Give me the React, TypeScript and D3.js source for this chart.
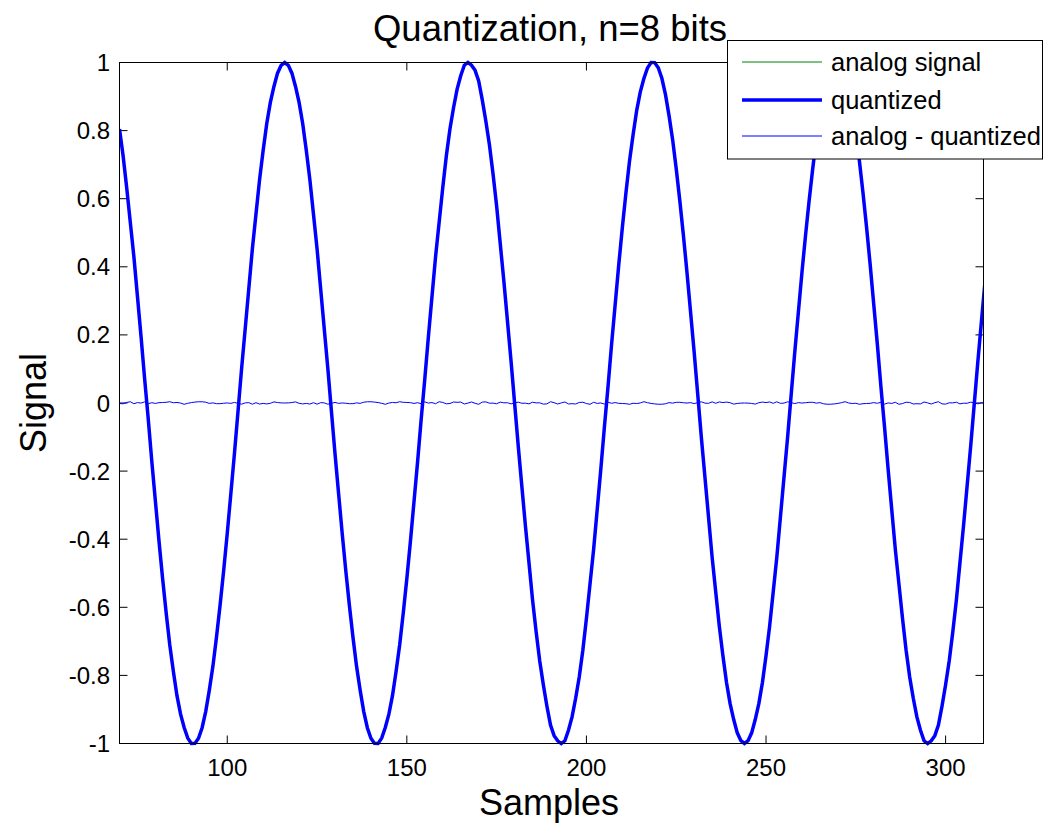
import React from "react";
import * as d3 from "d3";

// sample index of the first value
const firstSample = 70;

// analog signal, one value per sample (n = 70 .. 311)
const analog = [
  0.803, 0.724, 0.634, 0.535, 0.428, 0.314, 0.195, 0.074, -0.049, -0.171,
  -0.29, -0.405, -0.514, -0.615, -0.707, -0.788, -0.858, -0.914, -0.957, -0.985,
  -0.999, -0.997, -0.981, -0.95, -0.904, -0.845, -0.773, -0.69, -0.596, -0.493,
  -0.383, -0.267, -0.147, -0.025, 0.098, 0.219, 0.337, 0.45, 0.556, 0.653,
  0.741, 0.818, 0.882, 0.933, 0.97, 0.992, 1.0, 0.992, 0.97, 0.933,
  0.882, 0.818, 0.741, 0.653, 0.556, 0.45, 0.337, 0.219, 0.098, -0.025,
  -0.147, -0.267, -0.383, -0.493, -0.596, -0.69, -0.773, -0.845, -0.904, -0.95,
  -0.981, -0.997, -0.999, -0.985, -0.957, -0.914, -0.858, -0.788, -0.707, -0.615,
  -0.514, -0.405, -0.29, -0.171, -0.049, 0.074, 0.195, 0.314, 0.428, 0.535,
  0.634, 0.724, 0.803, 0.87, 0.924, 0.964, 0.989, 1.0, 0.995, 0.976,
  0.942, 0.893, 0.831, 0.757, 0.672, 0.576, 0.471, 0.36, 0.243, 0.122,
  0.0, -0.122, -0.243, -0.36, -0.471, -0.576, -0.672, -0.757, -0.831, -0.893,
  -0.942, -0.976, -0.995, -1.0, -0.989, -0.964, -0.924, -0.87, -0.803, -0.724,
  -0.634, -0.535, -0.428, -0.314, -0.195, -0.074, 0.049, 0.171, 0.29, 0.405,
  0.514, 0.615, 0.707, 0.788, 0.858, 0.914, 0.957, 0.985, 0.999, 0.997,
  0.981, 0.95, 0.904, 0.845, 0.773, 0.69, 0.596, 0.493, 0.383, 0.267,
  0.147, 0.025, -0.098, -0.219, -0.337, -0.45, -0.556, -0.653, -0.741, -0.818,
  -0.882, -0.933, -0.97, -0.992, -1.0, -0.992, -0.97, -0.933, -0.882, -0.818,
  -0.741, -0.653, -0.556, -0.45, -0.337, -0.219, -0.098, 0.025, 0.147, 0.267,
  0.383, 0.493, 0.596, 0.69, 0.773, 0.845, 0.904, 0.95, 0.981, 0.997,
  0.999, 0.985, 0.957, 0.914, 0.858, 0.788, 0.707, 0.615, 0.514, 0.405,
  0.29, 0.171, 0.049, -0.074, -0.195, -0.314, -0.428, -0.535, -0.634, -0.724,
  -0.803, -0.87, -0.924, -0.964, -0.989, -1.0, -0.995, -0.976, -0.942, -0.893,
  -0.831, -0.757, -0.672, -0.576, -0.471, -0.36, -0.243, -0.122, 0.0, 0.122,
  0.243, 0.36,
];

// analog - quantized, in units of 1e-4, one value per sample
const errorE4 = [
  -15, -23, 16, 38, -21, 12, -2, 33, -22, 9,
  -12, 10, 15, 20, 38, 7, 16, -1, -38, -9,
  12, 27, 36, 36, 23, -11, 4, -20, -20, -7,
  1, -11, 17, -11, -35, 4, 10, -35, 9, -31,
  -12, -27, -9, 33, 13, 3, 0, 3, 13, 33,
  -9, -27, -12, -31, 9, -35, 10, 4, -35, -11,
  17, -11, 1, -7, -20, -20, 4, -11, 23, 36,
  36, 27, 12, -9, -38, -1, 16, 7, 38, 20,
  15, 10, -12, 9, -22, 33, -2, 12, -21, 38,
  16, -23, -15, 29, 20, 28, -30, -3, 30, -9,
  -38, 26, 33, -6, -3, -23, 26, 5, 8, -26,
  0, 26, -8, -5, -26, 23, 3, 6, -33, -26,
  38, 9, -30, 3, 30, -28, -20, -29, 15, 23,
  -16, -38, 21, -12, 2, -33, 22, -9, 12, -10,
  -15, -20, -38, -7, -16, 1, 38, 9, -12, -27,
  -36, -36, -23, 11, -4, 20, 20, 7, -1, 11,
  -17, 11, 35, -4, -10, 35, -9, 31, 12, 27,
  9, -33, -13, -3, 0, -3, -13, -33, 9, 27,
  12, 31, -9, 35, -10, -4, 35, 11, -17, 11,
  -1, 7, 20, 20, -4, 11, -23, -36, -36, -27,
  -12, 9, 38, 1, -16, -7, -38, -20, -15, -10,
  12, -9, 22, -33, 2, -12, 21, -38, -16, 23,
  15, -29, -20, -28, 30, 3, -30, 9, 38, -26,
  -33, 6, 3, 23, -26, -5, -8, 26, 0, -26,
  8, 5,
];

const xTicks = [100, 150, 200, 250, 300];
const yTicks = [-1, -0.8, -0.6, -0.4, -0.2, 0, 0.2, 0.4, 0.6, 0.8, 1];
const xDomain = [70, 310.55];
const yDomain = [-1, 1];

const titleText = "Quantization, n=8 bits";
const xLabel = "Samples";
const yLabel = "Signal";
const legendLabels = ["analog signal", "quantized", "analog - quantized"];

const W = 1043;
const H = 829;
const L = 119.5;
const R = 983.5;
const T = 62.5;
const B = 743.5;
const FONT = "'Liberation Sans', Arial, Helvetica, sans-serif";

export default function App() {
  const x = d3.scaleLinear().domain(xDomain).range([L, R]);
  const y = d3.scaleLinear().domain(yDomain).range([B, T]);

  const samples = analog.map((v, i) => ({
    n: firstSample + i,
    a: v,
    e: errorE4[i] * 1e-4,
    q: v - errorE4[i] * 1e-4,
  }));

  const lineA = d3.line<any>().x((d) => x(d.n)).y((d) => y(d.a));
  const lineQ = d3.line<any>().x((d) => x(d.n)).y((d) => y(d.q));
  const lineE = d3.line<any>().x((d) => x(d.n)).y((d) => y(d.e));

  const tickLen = 8;
  const legend = { x: 727.5, y: 40.5, w: 315, h: 118.5 };
  const legendRows = [62, 100, 136];
  const legendStyles = [
    { stroke: "#008000", width: 1 },
    { stroke: "#0000ff", width: 3.5 },
    { stroke: "#0000ff", width: 1 },
  ];

  const fmt = (t: number) => String(Math.round(t * 10) / 10);

  return (
    <svg
      width={W}
      height={H}
      viewBox={`0 0 ${W} ${H}`}
      style={{ position: "absolute", left: 0, top: 0, background: "#fff" }}
      fontFamily={FONT}
    >
      <rect x={0} y={0} width={W} height={H} fill="#fff" />
      <defs>
        <clipPath id="plotClip">
          <rect x={L} y={T - 3} width={R - L + 0.5} height={B - T + 6} />
        </clipPath>
      </defs>

      {/* ticks */}
      {xTicks.map((t) => (
        <g key={"xt" + t}>
          <line x1={x(t)} x2={x(t)} y1={B} y2={B - tickLen} stroke="#000" strokeWidth={1} />
          <line x1={x(t)} x2={x(t)} y1={T} y2={T + tickLen} stroke="#000" strokeWidth={1} />
          <text x={x(t)} y={776} textAnchor="middle" fontSize={24} fill="#000">
            {fmt(t)}
          </text>
        </g>
      ))}
      {yTicks.map((t) => (
        <g key={"yt" + t}>
          <line x1={L} x2={L + tickLen} y1={y(t)} y2={y(t)} stroke="#000" strokeWidth={1} />
          <line x1={R} x2={R - tickLen} y1={y(t)} y2={y(t)} stroke="#000" strokeWidth={1} />
          <text x={110} y={y(t) + 8.5} textAnchor="end" fontSize={24} fill="#000">
            {fmt(t)}
          </text>
        </g>
      ))}

      {/* data */}
      <g clipPath="url(#plotClip)">
        <path d={lineA(samples) || ""} fill="none" stroke="#008000" strokeWidth={1} />
        <path
          d={lineQ(samples) || ""}
          fill="none"
          stroke="#0000ff"
          strokeWidth={3.5}
          strokeLinejoin="miter"
          strokeMiterlimit={4}
        />
        <path d={lineE(samples) || ""} fill="none" stroke="#0000ff" strokeWidth={1} />
      </g>

      {/* axes box */}
      <rect x={L} y={T} width={R - L} height={B - T} fill="none" stroke="#000" strokeWidth={1} />

      {/* title and labels */}
      <text x={550} y={41} textAnchor="middle" fontSize={36.5} fill="#000">
        {titleText}
      </text>
      <text x={549} y={815} textAnchor="middle" fontSize={36} fill="#000">
        {xLabel}
      </text>
      <text
        transform={`translate(46, 403) rotate(-90)`}
        textAnchor="middle"
        fontSize={36}
        fill="#000"
      >
        {yLabel}
      </text>

      {/* legend */}
      <rect
        x={legend.x}
        y={legend.y}
        width={legend.w}
        height={legend.h}
        fill="#fff"
        stroke="#000"
        strokeWidth={1}
      />
      {legendLabels.map((lab, i) => (
        <g key={lab}>
          <line
            x1={742}
            x2={822}
            y1={legendRows[i]}
            y2={legendRows[i]}
            stroke={legendStyles[i].stroke}
            strokeWidth={legendStyles[i].width}
          />
          <text x={831} y={legendRows[i] + 9} fontSize={25.5} fill="#000">
            {lab}
          </text>
        </g>
      ))}
    </svg>
  );
}
